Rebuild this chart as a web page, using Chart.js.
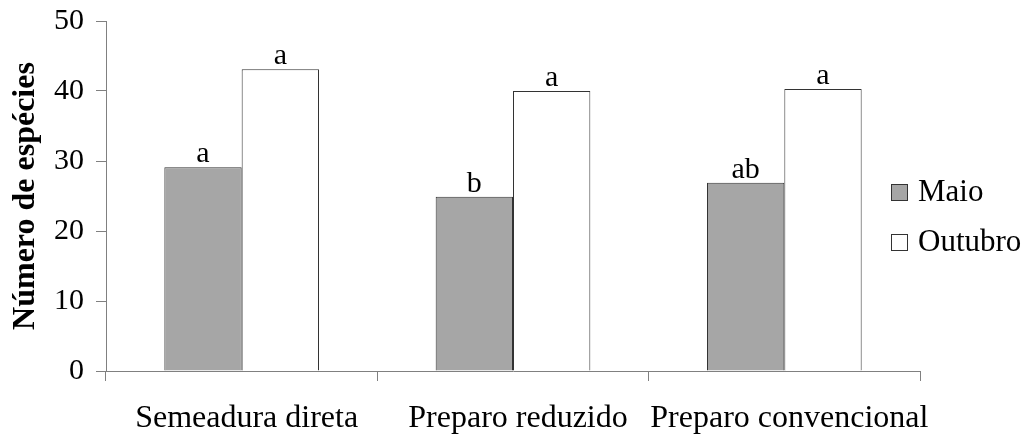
<!DOCTYPE html>
<html>
<head>
<meta charset="utf-8">
<script src="https://cdn.jsdelivr.net/npm/chart.js@4.4.0/dist/chart.umd.min.js"></script>
<style>
    html, body { margin: 0; padding: 0; background: #fff; }
    #wrap { width: 1029px; height: 436px; position: relative; }
</style>
</head>
<body>
<div id="wrap"><canvas id="BarChart"></canvas></div>
<script>
// data
var categories = ['Semeadura direta', 'Preparo reduzido', 'Preparo convencional'];
var maio = [29.1, 24.9, 26.9];
var outubro = [43.1, 40.0, 40.3];
var maioLetters = ['a', 'b', 'ab'];
var outubroLetters = ['a', 'a', 'a'];
var yTicks = [0, 10, 20, 30, 40, 50];

var serif = '"Liberation Serif", "Times New Roman", serif';
var axisGray = '#808080';

// letters of the mean comparison above each bar
var letterPlugin = {
    id: 'letters',
    afterDatasetsDraw: function (chart) {
        var ctx = chart.ctx;
        ctx.save();
        ctx.font = '30px ' + serif;
        ctx.fillStyle = '#000';
        ctx.textAlign = 'center';
        ctx.textBaseline = 'alphabetic';
        chart.data.datasets.forEach(function (ds, i) {
            chart.getDatasetMeta(i).data.forEach(function (bar, j) {
                ctx.fillText(ds.letters[j], bar.x, bar.y - 5);
            });
        });
        ctx.restore();
    }
};

// legend sits inside the right part of the plot, like the original
var sideLegend = {
    id: 'sideLegend',
    afterDraw: function (chart) {
        var ctx = chart.ctx;
        ctx.save();
        ctx.font = '31px ' + serif;
        ctx.textBaseline = 'middle';
        ctx.lineWidth = 1;
        chart.data.datasets.forEach(function (ds, i) {
            var y = 192 + i * 50;
            ctx.fillStyle = ds.backgroundColor;
            ctx.fillRect(891, y - 8, 16, 16);
            ctx.strokeStyle = '#333';
            ctx.strokeRect(891.5, y - 7.5, 16, 16);
            ctx.fillStyle = '#000';
            ctx.fillText(ds.label, 918, y + 1);
        });
        ctx.restore();
    }
};

var ctx = document.getElementById('BarChart').getContext('2d');
var myChart = new Chart(ctx, {
    type: 'bar',
    data: {
        labels: categories,
        datasets: [{
            label: 'Maio',
            data: maio,
            letters: maioLetters,
            backgroundColor: '#a6a6a6',
            borderColor: '#333',
            borderWidth: 1
        }, {
            label: 'Outubro',
            data: outubro,
            letters: outubroLetters,
            backgroundColor: '#ffffff',
            borderColor: '#333',
            borderWidth: 1
        }]
    },
    options: {
        responsive: true,
        maintainAspectRatio: false,
        animation: false,
        categoryPercentage: 0.57,
        barPercentage: 1.0,
        layout: { padding: { top: 21, right: 109, left: 0, bottom: 0 } },
        plugins: {
            legend: { display: false },
            tooltip: { enabled: false }
        },
        scales: {
            x: {
                grid: { drawOnChartArea: false, tickLength: 10, color: axisGray, offset: true },
                border: { color: axisGray },
                ticks: {
                    color: '#000',
                    font: { family: serif, size: 32 },
                    padding: 18,
                    maxRotation: 0,
                    autoSkip: false,
                    labelOffset: 5
                },
                afterFit: function (scale) {
                    scale.height = 65;
                    scale.paddingLeft = 0;
                    scale.paddingRight = 0;
                }
            },
            y: {
                min: 0,
                max: 50,
                afterBuildTicks: function (scale) {
                    scale.ticks = yTicks.map(function (v) { return { value: v }; });
                },
                grid: { drawOnChartArea: false, tickLength: 10, color: axisGray },
                border: { color: axisGray },
                ticks: { color: '#000', font: { family: serif, size: 30 }, padding: 12 },
                title: {
                    display: true,
                    text: 'Número de espécies',
                    color: '#000',
                    font: { family: serif, size: 32, weight: 'bold' },
                    padding: { top: 7, bottom: 0 }
                },
                afterFit: function (scale) {
                    scale.width = 106;
                    scale.paddingTop = 0;
                    scale.paddingBottom = 0;
                }
            }
        }
    },
    plugins: [letterPlugin, sideLegend]
});
</script>
</body>
</html>
